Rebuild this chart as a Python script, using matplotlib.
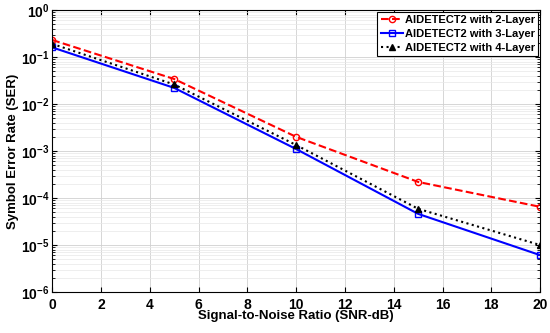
import matplotlib
matplotlib.use("Agg")
import matplotlib.pyplot as plt

plt.rcParams['font.family'] = ['Liberation Sans', 'DejaVu Sans']
plt.rcParams['font.weight'] = 'bold'
plt.rcParams['mathtext.default'] = 'bf'

# datos
snr = [0, 5, 10, 15, 20]
ser_2layer = [0.23, 0.034, 0.0020, 2.2e-4, 6.5e-5]
ser_3layer = [0.16, 0.022, 0.0011, 4.6e-5, 6.1e-6]
ser_4layer = [0.19, 0.026, 0.00134, 5.9e-5, 1.0e-5]
etiquetas = ["AIDETECT2 with 2-Layer", "AIDETECT2 with 3-Layer", "AIDETECT2 with 4-Layer"]

fig = plt.figure(figsize=(5.5, 3.33), dpi=100)
ax = fig.add_axes([0.095, 0.123, 0.887, 0.847])

ax.semilogy(snr, ser_2layer, 'r--o', lw=1.5, ms=4.5, mfc='none', mew=1.0, label=etiquetas[0])
ax.semilogy(snr, ser_3layer, 'b-s', lw=1.5, ms=4, mfc='none', mew=1.0, label=etiquetas[1])
ax.semilogy(snr, ser_4layer, 'k:^', lw=1.5, ms=4.5, mfc='k', mew=1.0, label=etiquetas[2])

ax.set_xlim(0, 20)
ax.set_ylim(1e-6, 1)
ax.set_xticks(range(0, 21, 2))
ax.grid(True, which='major', color='#d0d0d0', lw=0.6)
ax.grid(True, which='minor', color='#e8e8e8', lw=0.5)
ax.tick_params(labelsize=10, direction='in', which='both', top=True, right=True)
ax.tick_params(axis='x', pad=4)
ax.tick_params(axis='y', pad=2)
for lab in ax.get_xticklabels() + ax.get_yticklabels():
    lab.set_fontweight('bold')

ax.set_xlabel("Signal-to-Noise Ratio (SNR-dB)", fontsize=9.5, fontweight='bold', labelpad=-1)
ax.set_ylabel("Symbol Error Rate (SER)", fontsize=9.5, fontweight='bold', labelpad=1)

leg = ax.legend(loc='upper right', fontsize=8, fancybox=False, framealpha=1,
                edgecolor='black', borderpad=0.3, labelspacing=0.35, handlelength=2.0,
                handletextpad=0.2, borderaxespad=0.15)
leg.get_frame().set_linewidth(0.8)
for t in leg.get_texts():
    t.set_fontweight('bold')

fig.savefig("out.png", dpi=100)
